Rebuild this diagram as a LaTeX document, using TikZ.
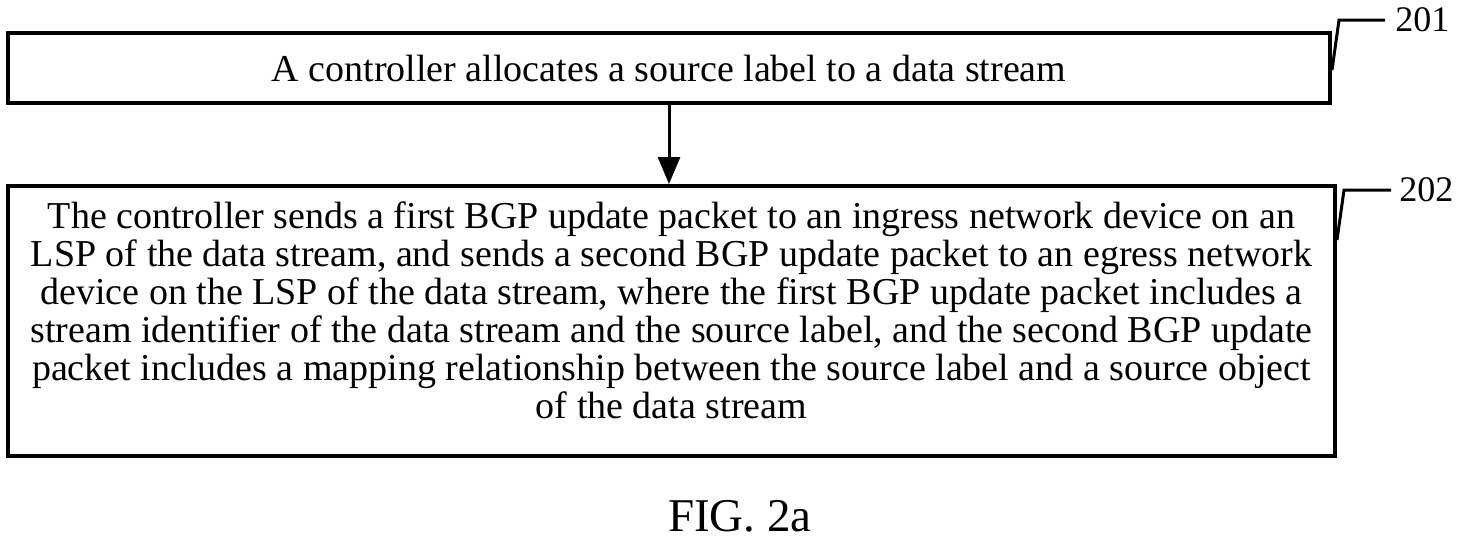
\documentclass[tikz,border=0pt]{standalone}
\usepackage{fontspec}
\setmainfont{Liberation Serif}
\usetikzlibrary{arrows.meta}
\begin{document}
\begin{tikzpicture}[x=0.5pt, y=-0.5pt,
					every node/.style={font=\fontsize{19}{19}\selectfont},
					stepbox/.style={draw, line width=2pt, inner sep=0pt, align=center},
					leader/.style={line width=1.5pt},
					flow/.style={draw, line width=1.5pt, -{Triangle[length=13.5pt, width=11pt]}},
					refnum/.style={anchor=west, inner sep=0pt, font=\fontsize{18}{20}\selectfont}]
	\useasboundingbox (0,0) rectangle (1461,541);
	\node[stepbox, minimum width=661pt, minimum height=35pt] (box1) at (669,68)
		{A controller allocates a source label to a data stream};
	\node[stepbox, minimum width=663.5pt, minimum height=135pt] (box2) at (671.5,321) {};
	\node[align=center, inner sep=0pt] (text2) at ([yshift=5.5pt]box2.center)
		{The controller sends a first BGP update packet to an ingress network device on an\\
		LSP of the data stream, and sends a second BGP update packet to an egress network\\
		device on the LSP of the data stream, where the first BGP update packet includes a\\
		stream identifier of the data stream and the source label, and the second BGP update\\
		packet includes a mapping relationship between the source label and a source object\\
		of the data stream};
	\draw[flow] (box1.south) -- (box1.south |- box2.north);
	% reference numerals
	\draw[leader] ([yshift=-1pt]box1.east) -- ++(7,-50) -- ++(46,0) coordinate (end201);
	\node[refnum] (label201) at ([xshift=5pt]end201) {201};
	\draw[leader] ([yshift=-28pt]box2.north east) -- ++(7,-50) -- ++(47,0) coordinate (end202);
	\node[refnum] (label202) at ([xshift=4pt]end202) {202};
	\node[anchor=base, inner sep=0pt, font=\fontsize{23.5}{28}\selectfont] (caption) at (740,531) {FIG. 2a};
\end{tikzpicture}
\end{document}
